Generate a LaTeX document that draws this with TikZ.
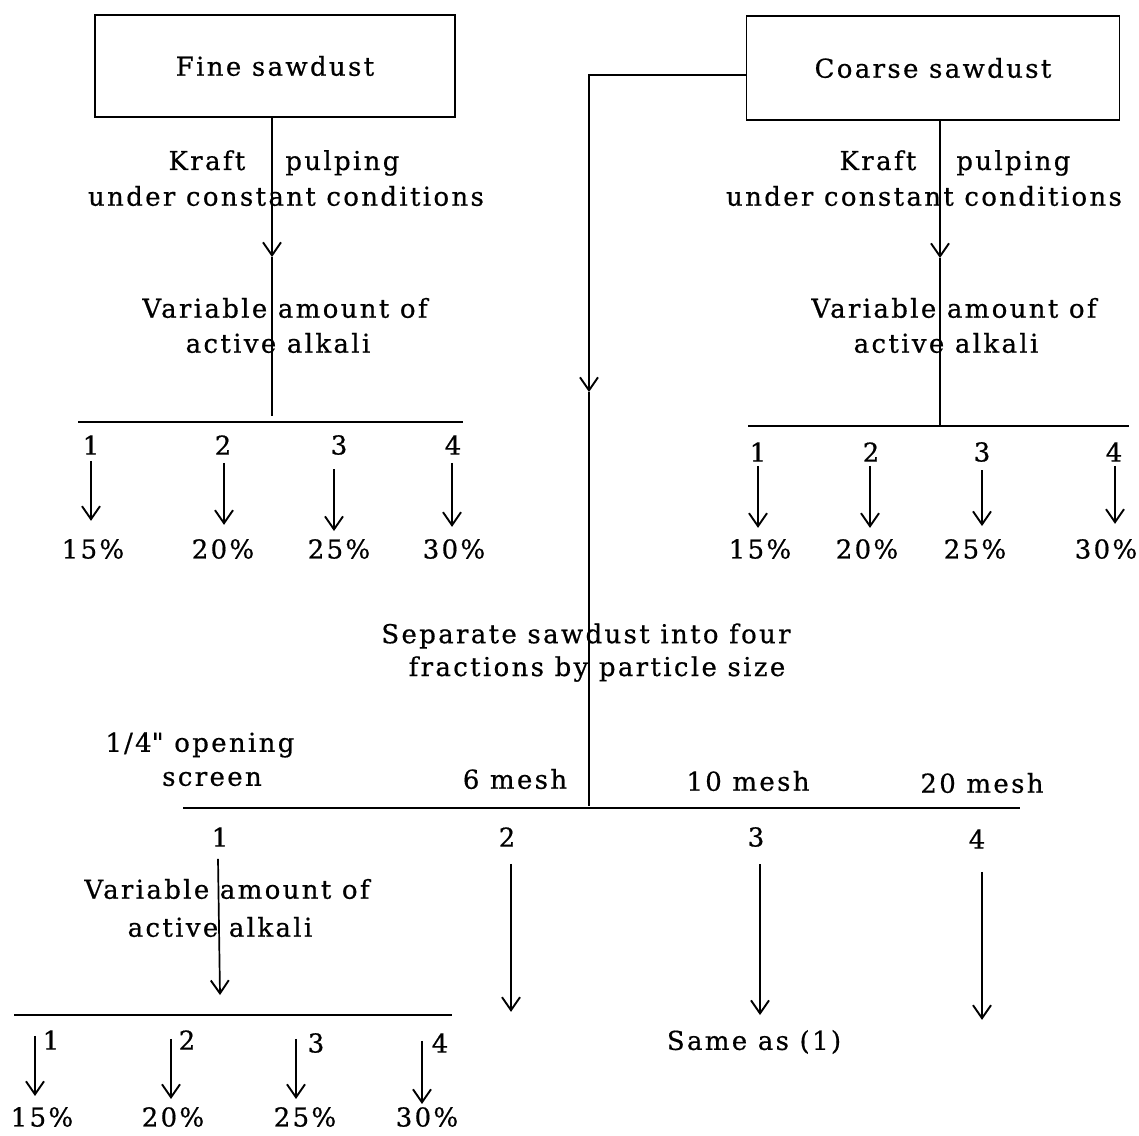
\documentclass[tikz,border=0pt]{standalone}
\usepackage{fontspec}
\setmainfont{DejaVu Serif}[LetterSpace=9,FakeBold=0.6]
\usetikzlibrary{arrows.meta}
\begin{document}
\begin{tikzpicture}[x=1pt,y=-1pt,
  txt/.style={font=\fontsize{26}{34}\selectfont, inner sep=0pt, align=center},
  boxnode/.style={txt, draw, line width=1.9pt},
  ln/.style={line width=1.7pt},
  bar/.style={line width=2.3pt},
  arr/.style={ln, -{Straight Barb[length=13pt,width=18pt,line width=1.9pt]}}]
\useasboundingbox (0,0) rectangle (1139,1135);
% boxes
\node[boxnode, minimum width=360pt, minimum height=102pt] (fine) at (275,66) {Fine sawdust};
\node[boxnode, minimum width=373pt, minimum height=104pt] (coarse) at (933,68) {Coarse sawdust};
% fine branch texts
\node[txt] (fk1) at (284,163) {Kraft\hspace{40pt}pulping};
\node[txt] (fk2) at (286,196) {under constant conditions};
\node[txt] (fv1) at (285,308) {Variable amount of};
\node[txt] (fv2) at (278,343) {active alkali};
% coarse branch texts
\node[txt] (ck1) at (955,163) {Kraft\hspace{40pt}pulping};
\node[txt] (ck2) at (924,196) {under constant conditions};
\node[txt] (cv1) at (954,308) {Variable amount of};
\node[txt] (cv2) at (946,343) {active alkali};
% fine branch lines
\coordinate (fmid) at (272,257);
\coordinate (fend) at (272,416);
\coordinate (fbarL) at (78,422);
\coordinate (fbarR) at (463,422);
\draw[arr] (fine.south -| fmid) -- (fmid);
\draw[ln] (fmid) -- (fend);
\draw[bar] (fbarL) -- (fbarR);
% coarse branch lines
\coordinate (cmid) at (940,258);
\coordinate (cend) at (940,426);
\coordinate (cbarL) at (748,426);
\coordinate (cbarR) at (1129,426);
\draw[arr] (coarse.south -| cmid) -- (cmid);
\draw[ln] (cmid) -- (cend);
\draw[bar] (cbarL) -- (cbarR);
% fine numbers and percents
\node[txt] (fn1) at (91,445) {1};
\node[txt] (fn2) at (223,445) {2};
\node[txt] (fn3) at (339,445) {3};
\node[txt] (fn4) at (453,445) {4};
\node[txt] (fp1) at (93,549) {15\%};
\node[txt] (fp2) at (223,549) {20\%};
\node[txt] (fp3) at (339,549) {25\%};
\node[txt] (fp4) at (454,549) {30\%};
\draw[arr] (fn1.south) ++(0,6) -- ++(0,60);
\draw[arr] (fn2.south) ++(1,8) -- ++(0,62);
\draw[arr] (fn3.south) ++(-5,14) -- ++(0,62);
\draw[arr] (fn4.south) ++(-1,8) -- ++(0,64);
% coarse numbers and percents
\node[txt] (cn1) at (758,452) {1};
\node[txt] (cn2) at (871,452) {2};
\node[txt] (cn3) at (982,452) {3};
\node[txt] (cn4) at (1114,452) {4};
\node[txt] (cp1) at (760,549) {15\%};
\node[txt] (cp2) at (867,549) {20\%};
\node[txt] (cp3) at (975,549) {25\%};
\node[txt] (cp4) at (1106,549) {30\%};
\draw[arr] (cn1.south) ++(0,4) -- ++(0,62);
\draw[arr] (cn2.south) ++(-1,4) -- ++(0,62);
\draw[arr] (cn3.south) ++(0,8) -- ++(0,56);
\draw[arr] (cn4.south) ++(1,4) -- ++(0,58);
% middle branch
\coordinate (smid) at (589,392);
\coordinate (send) at (589,806);
\draw[arr] ([yshift=-7pt]coarse.west) -| (smid);
\draw[ln] (smid) -- (send);
\node[txt] (sep1) at (586,636) {Separate sawdust into four};
\node[txt] (sep2) at (597,669) {fractions by particle size};
\node[txt] (s1a) at (200,745) {1\hspace{2pt}/4\textquotedbl{} opening};
\node[txt] (s1b) at (212,779) {screen};
\node[txt] (s2) at (515,779) {6 mesh};
\node[txt] (s3) at (748,781) {10 mesh};
\node[txt] (s4) at (982,783) {20 mesh};
\coordinate (sbarL) at (183,808);
\coordinate (sbarR) at (1020,808);
\draw[bar] (sbarL) -- (sbarR);
\node[txt] (sn1) at (220,837) {1};
\node[txt] (sn2) at (507,837) {2};
\node[txt] (sn3) at (756,837) {3};
\node[txt] (sn4) at (977,839) {4};
\node[txt] (same) at (754,1042) {Same as (1)};
\draw[arr] (sn1.south) ++(-2,12) -- (sn1.south |- 0,995);
\draw[arr] (sn2.south) ++(4,17) -- ++(0,148);
\draw[arr] (sn3.south) ++(4,17) -- ++(0,151);
\draw[arr] (sn4.south) ++(5,23) -- ++(0,148);
% lower left branch
\node[txt] (lv1) at (227,889) {Variable amount of};
\node[txt] (lv2) at (220,927) {active alkali};
\coordinate (lbarL) at (14,1015);
\coordinate (lbarR) at (452,1015);
\draw[bar] (lbarL) -- (lbarR);
\node[txt] (ln1) at (51,1040) {1};
\node[txt] (ln2) at (187,1040) {2};
\node[txt] (ln3) at (316,1043) {3};
\node[txt] (ln4) at (440,1043) {4};
\node[txt] (lp1) at (42,1117) {15\%};
\node[txt] (lp2) at (173,1117) {20\%};
\node[txt] (lp3) at (305,1117) {25\%};
\node[txt] (lp4) at (427,1117) {30\%};
\draw[arr] (lp1.north) ++(-7,-71) -- ++(0,60);
\draw[arr] (lp2.north) ++(-2,-68) -- ++(0,60);
\draw[arr] (lp3.north) ++(-9,-68) -- ++(0,60);
\draw[arr] (lp4.north) ++(-5,-66) -- ++(0,63);
\end{tikzpicture}
\end{document}
